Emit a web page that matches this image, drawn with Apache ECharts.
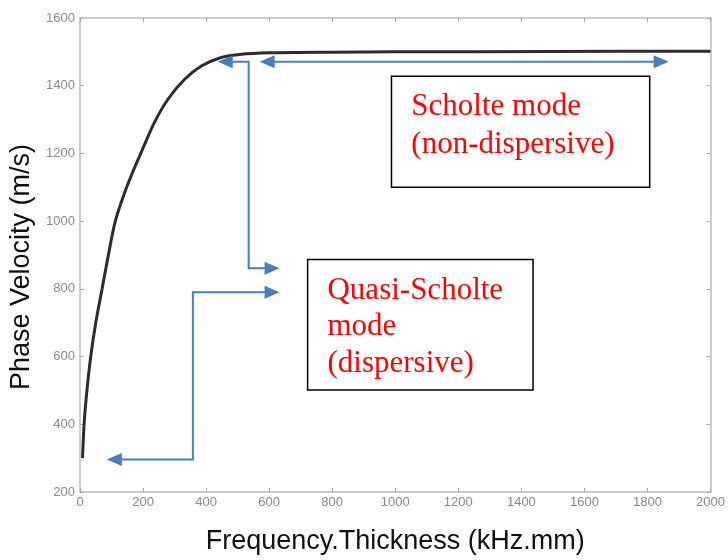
<!DOCTYPE html>
<html><head><meta charset="utf-8">
<script src="https://cdn.jsdelivr.net/npm/echarts@6/dist/echarts.min.js"></script>
<style>html,body{margin:0;padding:0;background:#fff}#c{width:728px;height:560px}</style>
</head><body><div id="c"></div>
<script>
// Curve
const freq =     [8,   13,  22,  34,  50,  70,  90,  112,  140,  165,  195,  237,  279,  332,  385,  443,  506,  600,  800,  1000, 1500, 2000];
const velocity = [300, 400, 500, 600, 700, 800, 900, 1000, 1080, 1140, 1205, 1293, 1360, 1419, 1458, 1482, 1492, 1497, 1499, 1500, 1501, 1502];
// Tick values
const xTicks = [0, 200, 400, 600, 800, 1000, 1200, 1400, 1600, 1800, 2000];
const yTicks = [200, 400, 600, 800, 1000, 1200, 1400, 1600];
// Annotations in data coordinates
const arrowNonDisp = [[570, 1471], [1867, 1471]];
const arrowQuasiTop = [[437, 1471], [535, 1471], [535, 861], [633, 861]];
const arrowQuasiLow = [[633, 790], [358, 790], [358, 296], [85, 296]];
const boxScholte = [[988, 1428], [1807, 1100]];
const boxQuasi = [[722, 887], [1437, 501]];
const textScholte = ['Scholte mode', '(non-dispersive)'];
const textQuasi = ['Quasi-Scholte', 'mode', '(dispersive)'];
const textScholteAnchor = [1051, 1393];
const textQuasiAnchor = [785, 849];

const chart = echarts.init(document.getElementById('c'), null, {renderer: 'canvas'});
const axisCommon = {
  type: 'value',
  axisLine: {show: true, onZero: false, lineStyle: {color: '#bdbdbd', width: 1.5}},
  axisTick: {show: true, inside: true, length: 4, lineStyle: {color: '#a8a8a8', width: 1}},
  splitLine: {show: false},
  axisLabel: {color: '#8a8a8a', fontSize: 13, fontFamily: 'Liberation Sans', formatter: v => String(v)}
};
const xr = {min: xTicks[0], max: xTicks[xTicks.length - 1], interval: xTicks[1] - xTicks[0]};
const yr = {min: yTicks[0], max: yTicks[yTicks.length - 1], interval: yTicks[1] - yTicks[0]};
chart.setOption({
  animation: false,
  backgroundColor: '#fff',
  grid: {left: 80, right: 17, top: 18, bottom: 63},
  xAxis: [
    Object.assign({}, axisCommon, xr, {
      position: 'bottom',
      name: 'Frequency.Thickness (kHz.mm)', nameLocation: 'middle', nameGap: 36,
      nameTextStyle: {fontSize: 27, color: '#111', fontFamily: 'Liberation Sans'},
      axisLabel: Object.assign({}, axisCommon.axisLabel, {margin: 4})
    }),
    Object.assign({}, axisCommon, xr, {position: 'top', axisLabel: {show: false}})
  ],
  yAxis: [
    Object.assign({}, axisCommon, yr, {
      position: 'left',
      name: 'Phase Velocity (m/s)', nameLocation: 'middle', nameGap: 37,
      nameTextStyle: {fontSize: 27, color: '#111', fontFamily: 'Liberation Sans', padding: [0, 24, 0, 0]},
      axisLabel: Object.assign({}, axisCommon.axisLabel, {margin: 5})
    }),
    Object.assign({}, axisCommon, yr, {position: 'right', axisLabel: {show: false}})
  ],
  series: [{
    type: 'line', xAxisIndex: 0, yAxisIndex: 0,
    data: freq.map((f, i) => [f, velocity[i]]),
    smooth: 0.3, showSymbol: false,
    lineStyle: {color: '#2c2c2c', width: 3}
  }]
});

const toPx = p => chart.convertToPixel({xAxisIndex: 0, yAxisIndex: 0}, p);
const BLUE = '#4a7ebb';
const HEAD_L = 15, HEAD_W = 13;
function arrowGraphics(pts, startHead, endHead) {
  const px = pts.map(toPx);
  const out = [];
  const line = px.map(p => p.slice());
  function head(tip, from) {
    const dx = tip[0] - from[0], dy = tip[1] - from[1];
    const len = Math.hypot(dx, dy), ux = dx / len, uy = dy / len;
    const bx = tip[0] - ux * HEAD_L, by = tip[1] - uy * HEAD_L;
    out.push({type: 'polygon', z: 10, shape: {points: [tip, [bx - uy * HEAD_W / 2, by + ux * HEAD_W / 2], [bx + uy * HEAD_W / 2, by - ux * HEAD_W / 2]]}, style: {fill: BLUE}});
    return [bx + ux * 1, by + uy * 1];
  }
  if (endHead) line[line.length - 1] = head(px[px.length - 1], px[px.length - 2]);
  if (startHead) line[0] = head(px[0], px[1]);
  out.push({type: 'polyline', z: 9, shape: {points: line}, style: {stroke: BLUE, lineWidth: 2, fill: null}});
  return out;
}
function boxGraphic(b) {
  const a = toPx(b[0]), c = toPx(b[1]);
  return {type: 'rect', z: 8, shape: {x: a[0], y: a[1], width: c[0] - a[0], height: c[1] - a[1]}, style: {fill: '#fff', stroke: '#000', lineWidth: 1.5}};
}
function textGraphic(lines, anchor, lh) {
  const p = toPx(anchor);
  return {type: 'text', z: 11, x: p[0], y: p[1], style: {text: lines.join('\n'), fontSize: 31, fontFamily: 'Liberation Serif', fill: '#ff0000', lineHeight: lh, verticalAlign: 'top', align: 'left'}};
}
chart.setOption({
  graphic: [].concat(
    arrowGraphics(arrowNonDisp, true, true),
    arrowGraphics(arrowQuasiTop, true, true),
    arrowGraphics(arrowQuasiLow, true, true),
    [boxGraphic(boxScholte), boxGraphic(boxQuasi),
     textGraphic(textScholte, textScholteAnchor, 38),
     textGraphic(textQuasi, textQuasiAnchor, 36.5)]
  )
});
</script>
</body></html>
